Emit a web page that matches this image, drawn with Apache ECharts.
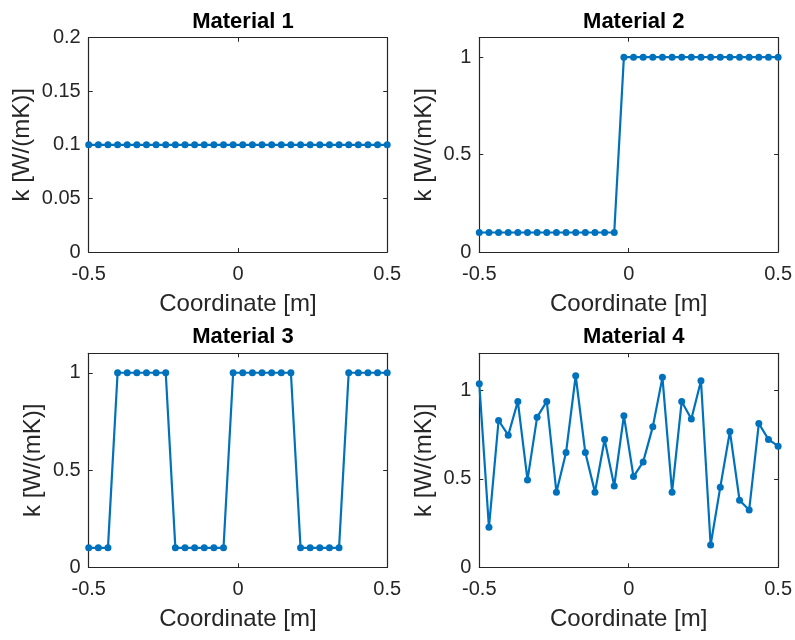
<!DOCTYPE html>
<html>
<head>
<meta charset="utf-8">
<script src="https://cdn.jsdelivr.net/npm/echarts@6/dist/echarts.min.js"></script>
<style>
  html, body { margin: 0; padding: 0; background: #fff; }
  #chart { width: 795px; height: 640px; }
</style>
</head>
<body>
<div id="chart"></div>
<script>
// Sample coordinates along the rod [m]
const coords = [
  -0.5, -0.4677, -0.4355, -0.4032, -0.3710, -0.3387, -0.3065, -0.2742,
  -0.2419, -0.2097, -0.1774, -0.1452, -0.1129, -0.0806, -0.0484, -0.0161,
  0.0161, 0.0484, 0.0806, 0.1129, 0.1452, 0.1774, 0.2097, 0.2419,
  0.2742, 0.3065, 0.3387, 0.3710, 0.4032, 0.4355, 0.4677, 0.5
];

// Thermal conductivity k [W/(mK)] of each material
const kMaterial1 = [
  0.1, 0.1, 0.1, 0.1, 0.1, 0.1, 0.1, 0.1, 0.1, 0.1, 0.1, 0.1, 0.1, 0.1, 0.1, 0.1,
  0.1, 0.1, 0.1, 0.1, 0.1, 0.1, 0.1, 0.1, 0.1, 0.1, 0.1, 0.1, 0.1, 0.1, 0.1, 0.1
];
const kMaterial2 = [
  0.1, 0.1, 0.1, 0.1, 0.1, 0.1, 0.1, 0.1, 0.1, 0.1, 0.1, 0.1, 0.1, 0.1, 0.1, 1,
  1, 1, 1, 1, 1, 1, 1, 1, 1, 1, 1, 1, 1, 1, 1, 1
];
const kMaterial3 = [
  0.1, 0.1, 0.1, 1, 1, 1, 1, 1, 1, 0.1, 0.1, 0.1, 0.1, 0.1, 0.1, 1,
  1, 1, 1, 1, 1, 1, 0.1, 0.1, 0.1, 0.1, 0.1, 1, 1, 1, 1, 1
];
const kMaterial4 = [
  1.038, 0.226, 0.830, 0.747, 0.938, 0.494, 0.849, 0.938,
  0.425, 0.649, 1.083, 0.649, 0.425, 0.723, 0.460, 0.857,
  0.513, 0.596, 0.794, 1.074, 0.425, 0.938, 0.838, 1.055,
  0.126, 0.453, 0.768, 0.379, 0.324, 0.813, 0.723, 0.685
];

const titles = ['Material 1', 'Material 2', 'Material 3', 'Material 4'];
const xTicks = { min: -0.5, max: 0.5, interval: 0.5 };
// y-axis limits; showMax tells whether the upper limit carries a tick label
const yRanges = [
  { min: 0, max: 0.2, interval: 0.05, showMax: true },
  { min: 0, max: 1.1, interval: 0.5, showMax: false },
  { min: 0, max: 1.1, interval: 0.5, showMax: false },
  { min: 0, max: 1.21, interval: 0.5, showMax: false }
];
const xLabel = 'Coordinate [m]';
const yLabel = 'k [W/(mK)]';

const FONT = '"Liberation Sans", Arial, Helvetica, sans-serif';
const AXIS_COLOR = '#262626';
const LINE_COLOR = '#0072BD';

const panels = [
  { left: 88.7, top: 37.7, width: 298.5, height: 214.3, yGap: 54 },
  { left: 479.3, top: 37.7, width: 299, height: 214.3, yGap: 43 },
  { left: 88.7, top: 353.3, width: 298.5, height: 214, yGap: 43 },
  { left: 479.3, top: 353.3, width: 299, height: 214, yGap: 43 }
];
const kSeries = [kMaterial1, kMaterial2, kMaterial3, kMaterial4];

const grid = [], xAxis = [], yAxis = [], series = [], title = [];

panels.forEach((p, i) => {
  const yr = yRanges[i];
  const yScale = { min: yr.min, max: yr.max, interval: yr.interval };
  grid.push({ left: p.left, top: p.top, width: p.width, height: p.height, containLabel: false });
  title.push({
    text: titles[i],
    left: p.left + p.width / 2,
    top: p.top - 32,
    textAlign: 'center',
    textStyle: { fontFamily: FONT, fontWeight: 'bold', fontSize: 22, color: '#000' }
  });
  const axLine = { show: true, onZero: false, lineStyle: { color: AXIS_COLOR, width: 1.2 } };
  const tick = { show: true, inside: true, length: 4, lineStyle: { color: AXIS_COLOR, width: 1 } };
  // bottom axis with labels
  xAxis.push({
    type: 'value', gridIndex: i, position: 'bottom', ...xTicks,
    axisLine: axLine, axisTick: tick, splitLine: { show: false },
    axisLabel: { fontFamily: FONT, fontSize: 20, color: AXIS_COLOR, margin: 12 },
    name: xLabel, nameLocation: 'middle', nameGap: 40,
    nameTextStyle: { fontFamily: FONT, fontSize: 24, color: AXIS_COLOR }
  });
  // top mirror axis (box edge + ticks)
  xAxis.push({
    type: 'value', gridIndex: i, position: 'top', ...xTicks,
    axisLine: axLine, axisTick: tick, splitLine: { show: false },
    axisLabel: { show: false }
  });
  yAxis.push({
    type: 'value', gridIndex: i, position: 'left', ...yScale,
    axisLine: axLine, axisTick: tick, splitLine: { show: false },
    axisLabel: {
      fontFamily: FONT, fontSize: 20, color: AXIS_COLOR, margin: 8,
      showMaxLabel: yr.showMax
    },
    name: yLabel, nameLocation: 'middle', nameGap: p.yGap, nameRotate: 90,
    nameTextStyle: { fontFamily: FONT, fontSize: 24, color: AXIS_COLOR }
  });
  // right mirror axis (box edge + ticks)
  yAxis.push({
    type: 'value', gridIndex: i, position: 'right', ...yScale,
    axisLine: axLine, axisTick: tick, splitLine: { show: false },
    axisLabel: { show: false }
  });
  series.push({
    type: 'line',
    xAxisIndex: 2 * i,
    yAxisIndex: 2 * i,
    data: coords.map((x, j) => [x, kSeries[i][j]]),
    symbol: 'circle',
    symbolSize: 7,
    showSymbol: true,
    lineStyle: { color: LINE_COLOR, width: 2.2 },
    itemStyle: { color: LINE_COLOR },
    animation: false,
    clip: false
  });
});

const chart = echarts.init(document.getElementById('chart'), null, { renderer: 'canvas' });
chart.setOption({
  backgroundColor: '#ffffff',
  animation: false,
  title, grid, xAxis, yAxis, series
});
</script>
</body>
</html>
